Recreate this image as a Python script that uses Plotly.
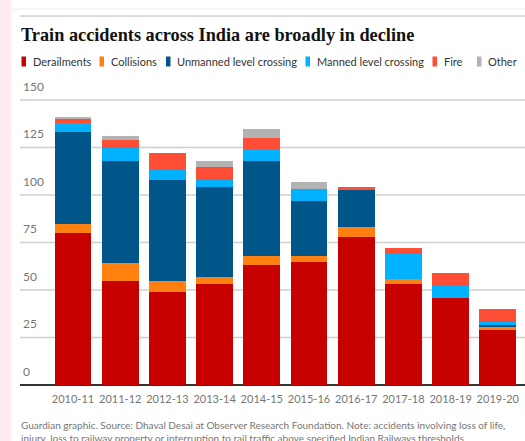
import plotly.graph_objects as go

years = ["2010-11", "2011-12", "2012-13", "2013-14", "2014-15",
         "2015-16", "2016-17", "2017-18", "2018-19", "2019-20"]
derailments = [80, 55, 49, 53, 63, 65, 78, 53, 46, 29]
collisions = [5, 9, 6, 4, 5, 3, 5, 3, 0, 2]
unmanned = [48, 54, 53, 47, 50, 29, 20, 0, 0, 1]
manned = [5, 7, 5, 4, 6, 6, 0, 13, 6, 1]
fire = [2, 4, 9, 7, 6, 0, 1, 3, 7, 7]
other = [1, 2, 0, 3, 5, 4, 0, 0, 0, 0]

series_names = ["Derailments", "Collisions", "Unmanned level crossing",
                "Manned level crossing", "Fire", "Other"]
series_values = [derailments, collisions, unmanned, manned, fire, other]
colors = ["#c70000", "#ff7f0f", "#005689", "#00b2ff", "#ff4e36", "#b3b3b3"]
y_ticks = [0, 25, 50, 75, 100, 125, 150]

W, H = 525, 441
L, R, T, B = 20, 0, 75, 56
pw, ph = W - L - R, H - T - B
y_top = 150 * ph / (H - B - 100)


def px_x(x):
    return (x - L) / pw


def px_y(y):
    return (H - B - y) / ph


fig = go.Figure()
for name, vals, col in zip(series_names, series_values, colors):
    fig.add_trace(go.Bar(x=list(range(len(years))), y=vals, name=name,
                         marker=dict(color=col, line=dict(width=0)),
                         showlegend=False))

font_sans = "Lato"
annotations = [
    dict(text="<b>Train accidents across India are broadly in decline</b>",
         x=px_x(19), y=px_y(35), xref="paper", yref="paper",
         xanchor="left", yanchor="middle", showarrow=False,
         font=dict(family="Liberation Serif", size=18.3, color="#121212")),
    dict(text="Guardian graphic. Source: Dhaval Desai at Observer Research Foundation. Note: accidents involving loss of life,<br>"
              "injury, loss to railway property or interruption to rail traffic above specified Indian Railways thresholds",
         x=px_x(19), y=px_y(417), xref="paper", yref="paper",
         xanchor="left", yanchor="top", align="left", showarrow=False,
         font=dict(family=font_sans, size=10, color="#767676")),
]
shapes = [
    dict(type="rect", xref="paper", yref="paper", x0=px_x(0), x1=px_x(11),
         y0=px_y(H), y1=px_y(0), fillcolor="#fcecef", line=dict(width=0),
         layer="below"),
    dict(type="line", xref="paper", yref="paper", x0=px_x(12), x1=1.0,
         y0=px_y(9), y1=px_y(9), line=dict(color="#eeeeee", width=1)),
    dict(type="line", xref="paper", yref="paper", x0=px_x(20), x1=1.0,
         y0=px_y(16), y1=px_y(16), line=dict(color="#cfcfcf", width=1.5)),
]
# horizontal gridlines at the tick values (drawn through the y scale)
for tv in y_ticks[1:]:
    shapes.append(dict(type="line", xref="paper", yref="y", x0=0, x1=1,
                       y0=tv, y1=tv, line=dict(color="#cfcfcf", width=1.5),
                       layer="below"))
leg_marker_x = [21.5, 99.5, 166, 305.5, 432.5, 477]
for name, col, mx in zip(series_names, colors, leg_marker_x):
    shapes.append(dict(type="rect", xref="paper", yref="paper",
                       x0=px_x(mx), x1=px_x(mx + 4.5),
                       y0=px_y(56.5), y1=px_y(66.5),
                       fillcolor=col, line=dict(width=0)))
    annotations.append(dict(text=name, x=px_x(mx + 9), y=px_y(61.5),
                            xref="paper", yref="paper", xanchor="left",
                            yanchor="middle", showarrow=False,
                            font=dict(family=font_sans, size=11, color="#333333")))

fig.update_layout(
    width=W, height=H,
    margin=dict(l=L, r=R, t=T, b=B, pad=0),
    paper_bgcolor="white", plot_bgcolor="white",
    barmode="stack", bargap=0.22,
    showlegend=False,
    annotations=annotations, shapes=shapes,
    xaxis=dict(range=[-1.123, 9.576], tickmode="array",
               tickvals=list(range(len(years))), ticktext=years,
               tickangle=0, ticklabelstandoff=6,
               showgrid=False, zeroline=False, showline=False,
               ticks="", tickfont=dict(family=font_sans, size=11, color="#767676"),
               fixedrange=True),
    yaxis=dict(range=[0, y_top], tickmode="array", tickvals=y_ticks,
               showgrid=False,
               zeroline=True, zerolinecolor="#333333", zerolinewidth=2,
               showline=False, ticks="",
               ticklabelposition="inside top", ticklabelshift=-5,
               tickfont=dict(family=font_sans, size=12, color="#767676"),
               fixedrange=True),
)

fig.write_html("out.html")
